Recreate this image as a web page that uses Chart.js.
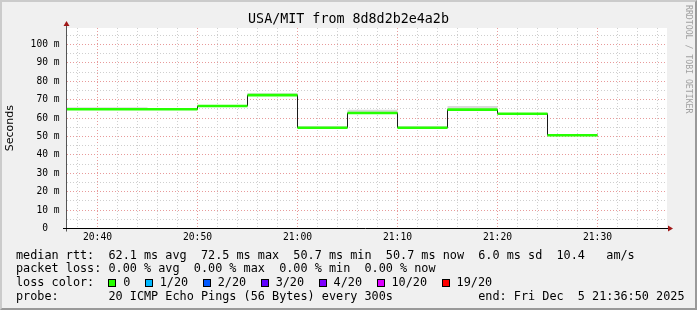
<!DOCTYPE html>
<html>
<head>
<meta charset="utf-8">
<script src="https://cdn.jsdelivr.net/npm/chart.js@4"></script>
<style>
  html, body { margin: 0; padding: 0; background: #f0f0f0; }
  #wrap { position: relative; width: 697px; height: 310px; overflow: hidden; background: #f0f0f0;
          font-family: 'DejaVu Sans Mono', monospace; color: #000; }
  #chart { position: absolute; left: 0; top: 0; }
  #frame { position: absolute; left: 0; top: 0; width: 697px; height: 310px; box-sizing: border-box;
           border-top: 2px solid #cbcbcb; border-left: 2px solid #cbcbcb;
           border-right: 2px solid #999; border-bottom: 2px solid #999; pointer-events: none; }
  #title { position: absolute; left: 0; width: 697px; top: 11px; text-align: center;
           font-size: 13.35px; line-height: 16px; white-space: pre; }
  #mark { position: absolute; left: 684px; top: 5px; writing-mode: vertical-rl;
          font-size: 8.2px; line-height: 9px; color: #a0a0a0; white-space: pre; }
  .row { position: absolute; left: 16px; font-size: 11.82px; line-height: 14px; white-space: pre; }
  .box { display: inline-block; width: 6px; height: 6px; border: 1px solid #000;
         margin-right: 6.7px; vertical-align: -1px; }
  .item { margin-right: 14.8px; }
</style>
</head>
<body>
<div id="wrap">
  <canvas id="chart" width="697" height="310"></canvas>
  <div id="title"></div>
  <div id="mark"></div>
  <div class="row" id="rtt" style="top:247.5px"></div>
  <div class="row" id="loss" style="top:260.8px"></div>
  <div class="row" id="colors" style="top:275.1px"></div>
  <div class="row" id="probe" style="top:288.8px"></div>
  <div id="frame"></div>
</div>
<script>
// time window and 5-minute intervals
const windowStart = '20:36:57';
const windowEnd = '21:36:57';
const stepMin = 5;
const intervalStarts = ['20:35', '20:40', '20:45', '20:50', '20:55', '21:00', '21:05', '21:10', '21:15', '21:20', '21:25'];

// median rtt (ms) and top of the smoke (ms) per interval
const medianRtt = [64.8, 64.8, 64.8, 66.6, 72.5, 54.8, 62.8, 54.8, 64.6, 62.4, 50.7];
const smokeTop  = [65.9, 65.9, 64.8, 66.6, 73.5, 55.6, 64.6, 55.6, 66.6, 62.4, 50.7];

// axis labels
const xTickLabels = ['20:40', '20:50', '21:00', '21:10', '21:20', '21:30'];
const yTickValues = [0, 10, 20, 30, 40, 50, 60, 70, 80, 90, 100];
const yTickLabels = ['0', '10 m', '20 m', '30 m', '40 m', '50 m', '60 m', '70 m', '80 m', '90 m', '100 m'];

// legend text
const titleText = 'USA/MIT from 8d8d2b2e4a2b';
const watermark = 'RRDTOOL / TOBI OETIKER';
const rttLine   = 'median rtt:  62.1 ms avg  72.5 ms max  50.7 ms min  50.7 ms now  6.0 ms sd  10.4   am/s';
const lossLine  = 'packet loss: 0.00 % avg  0.00 % max  0.00 % min  0.00 % now';
const lossLabels = ['0', '1/20', '2/20', '3/20', '4/20', '10/20', '19/20'];
const lossColors = ['#26ff00', '#00b8ff', '#0059ff', '#5e00ff', '#7e00ff', '#dd00ff', '#ff0000'];
const probeText = '20 ICMP Echo Pings (56 Bytes) every 300s';
const endText = 'end: Fri Dec  5 21:36:50 2025';

const toMin = s => { const p = s.split(':').map(Number); return p[0] * 60 + p[1] + (p[2] || 0) / 60; };

document.getElementById('title').textContent = titleText;
document.getElementById('mark').textContent = watermark;
document.getElementById('rtt').textContent = rttLine;
document.getElementById('loss').textContent = lossLine;
const probeRow = 'probe:       ' + probeText;
document.getElementById('probe').textContent = probeRow.padEnd(65, ' ') + endText;
const colorsRow = document.getElementById('colors');
colorsRow.appendChild(document.createTextNode('loss color:  '));
lossLabels.forEach((l, i) => {
  const b = document.createElement('span');
  b.className = 'box';
  b.style.background = lossColors[i];
  const t = document.createElement('span');
  t.className = 'item';
  t.textContent = l;
  colorsRow.appendChild(b);
  colorsRow.appendChild(t);
});

// build datasets from the arrays
const ends = intervalStarts.map(s => toMin(s) + stepMin);
const stepPts = arr => intervalStarts.map((s, i) => ({ x: toMin(s), y: arr[i] }))
  .concat([{ x: ends[ends.length - 1], y: arr[arr.length - 1] }]);
const greenPts = [];
intervalStarts.forEach((s, i) => {
  greenPts.push({ x: toMin(s), y: medianRtt[i] }, { x: ends[i], y: medianRtt[i] }, { x: ends[i], y: null });
});

const majorGrid = '#e89a9a';
const minorGrid = '#cfcfcf';

const rrdFrame = {
  id: 'rrdFrame',
  beforeDraw(chart) {
    const { ctx, chartArea: a } = chart;
    ctx.save();
    ctx.fillStyle = '#fff';
    ctx.fillRect(a.left, a.top, a.right - a.left, a.bottom - a.top);
    ctx.restore();
  },
  afterDatasetsDraw(chart) {
    const { ctx, chartArea: a } = chart;
    const y0 = chart.scales.y.getPixelForValue(0);
    ctx.save();
    ctx.lineWidth = 1;
    ctx.strokeStyle = '#555';
    ctx.beginPath();
    ctx.moveTo(a.left - 0.5, y0 + 3);
    ctx.lineTo(a.left - 0.5, a.top - 2);
    ctx.stroke();
    ctx.strokeStyle = '#000';
    ctx.beginPath();
    ctx.moveTo(a.left - 4, y0);
    ctx.lineTo(a.right + 1, y0);
    ctx.stroke();
    ctx.fillStyle = '#a01818';
    ctx.beginPath();
    ctx.moveTo(a.left - 3.5, a.top - 2);
    ctx.lineTo(a.left + 2.5, a.top - 2);
    ctx.lineTo(a.left - 0.5, a.top - 7);
    ctx.closePath();
    ctx.fill();
    ctx.beginPath();
    ctx.moveTo(a.right + 1, y0 - 3);
    ctx.lineTo(a.right + 1, y0 + 3);
    ctx.lineTo(a.right + 6, y0);
    ctx.closePath();
    ctx.fill();
    ctx.restore();
  }
};

Chart.defaults.font.family = "'DejaVu Sans Mono', monospace";
Chart.defaults.color = '#000';

new Chart(document.getElementById('chart'), {
  type: 'line',
  data: {
    datasets: [
      { data: stepPts(medianRtt), stepped: 'before', borderWidth: 0, pointRadius: 0, fill: false, order: 4, clip: 0 },
      { data: stepPts(smokeTop), stepped: 'before', borderWidth: 0, pointRadius: 0, fill: '-1',
        backgroundColor: '#d9d9d9', order: 3, clip: 0 },
      { data: stepPts(medianRtt), stepped: 'before', borderColor: '#1a1a1a', borderWidth: 1, pointRadius: 0,
        fill: false, order: 2, clip: 0 },
      { data: greenPts, borderColor: lossColors[0], borderWidth: 2.6, borderCapStyle: 'butt', pointRadius: 0,
        spanGaps: false, fill: false, order: 1, clip: 0 }
    ]
  },
  options: {
    responsive: false,
    devicePixelRatio: 1,
    animation: false,
    layout: { padding: { top: 28, right: 30, left: 0, bottom: 0 } },
    plugins: { legend: { display: false }, tooltip: { enabled: false }, title: { display: false } },
    scales: {
      x: {
        type: 'linear',
        min: toMin(windowStart),
        max: toMin(windowEnd),
        afterBuildTicks: s => {
          const t = [];
          for (let m = Math.ceil(s.min / 2) * 2; m <= s.max; m += 2) t.push({ value: m });
          s.ticks = t;
        },
        afterFit: s => { s.height = 81.5; },
        grid: { color: c => (c.tick && c.tick.value % 10 === 0) ? majorGrid : minorGrid, lineWidth: 1, drawTicks: false },
        border: { display: false, dash: [1, 2] },
        ticks: {
          autoSkip: false, maxRotation: 0, padding: 3.5, font: { size: 9.7 },
          callback: v => { const l = xTickLabels.find(t => Math.abs(toMin(t) - v) < 1e-6); return l || ''; }
        }
      },
      y: {
        type: 'linear',
        min: 0,
        max: 109,
        afterBuildTicks: s => {
          const t = [];
          for (let v = 0; v <= 105; v += 5) t.push({ value: v });
          s.ticks = t;
        },
        afterFit: s => { s.width = 67; },
        grid: { color: c => (c.tick && c.tick.value % 10 === 0) ? majorGrid : minorGrid, lineWidth: 1, drawTicks: false },
        border: { display: false, dash: [1, 2] },
        ticks: {
          autoSkip: false, padding: 7.5, font: { size: 9.6 },
          callback: v => {
            const i = yTickValues.indexOf(v);
            if (i < 0) return '';
            const l = yTickLabels[i];
            return l.includes(' ') ? l : l + '  ';
          }
        },
        title: { display: true, text: 'Seconds', font: { family: "'DejaVu Sans'", size: 11 }, padding: { top: 4, bottom: 0 } }
      }
    }
  },
  plugins: [rrdFrame]
});
</script>
</body>
</html>
